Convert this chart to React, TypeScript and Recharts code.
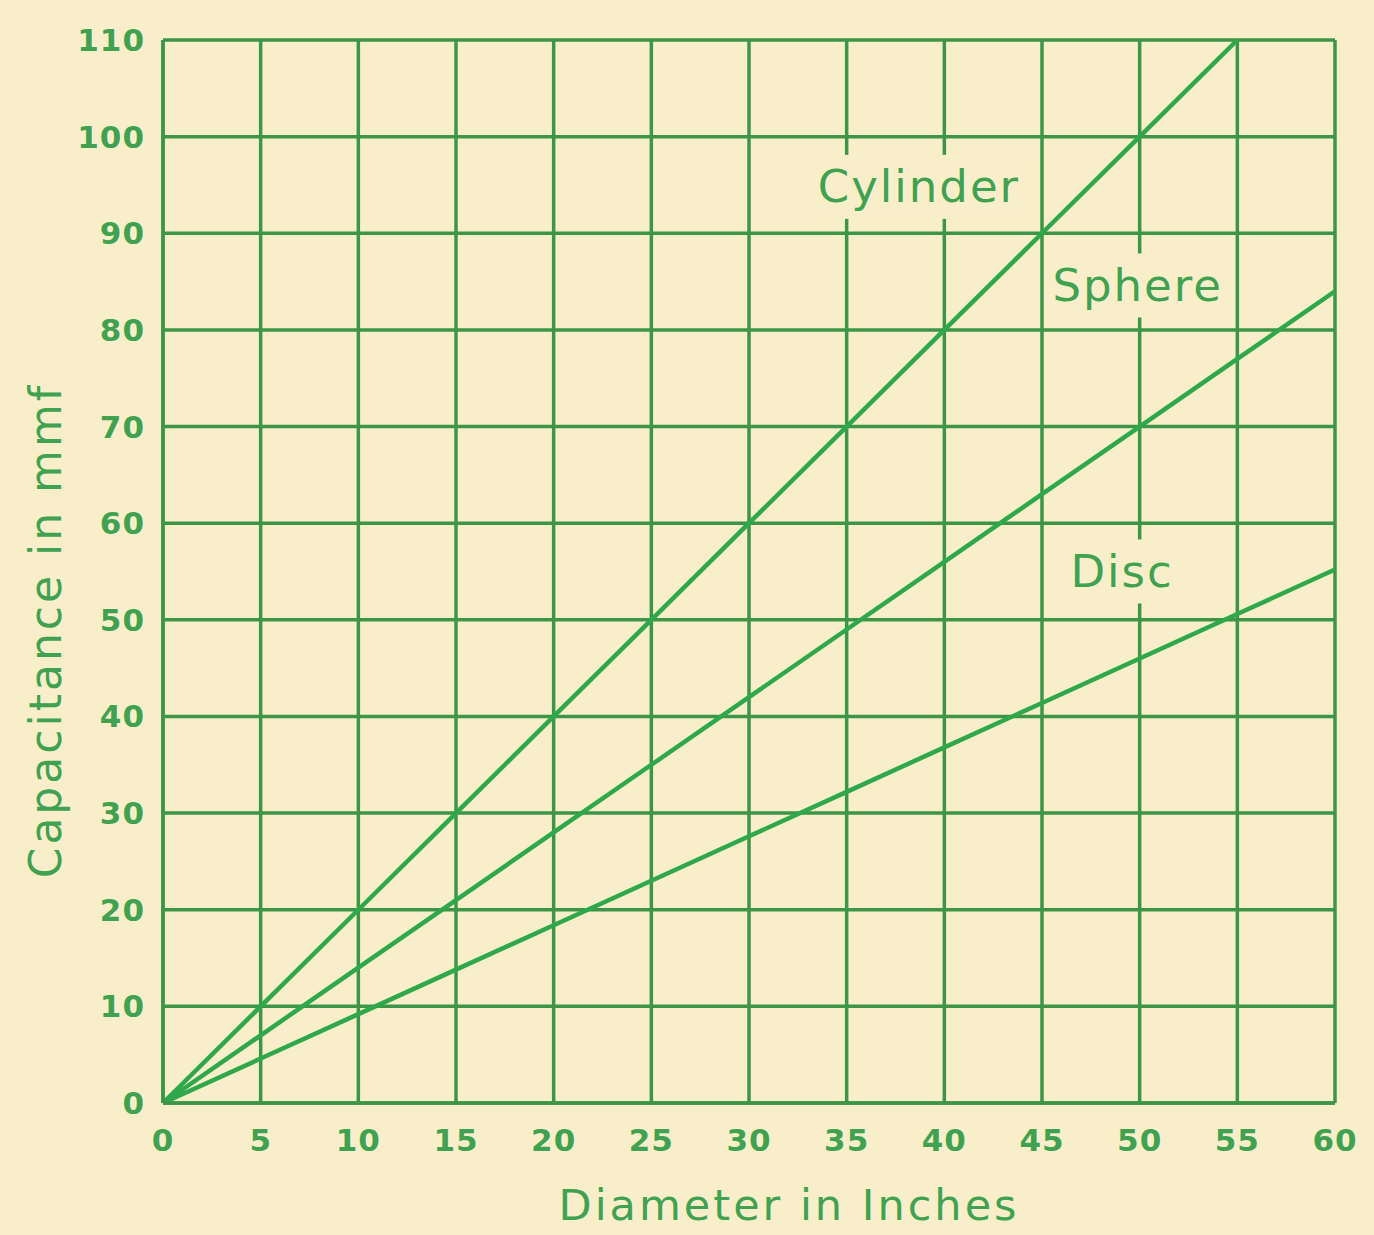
import React from "react";
import {
  LineChart,
  Line,
  XAxis,
  YAxis,
  CartesianGrid,
  ReferenceDot,
} from "recharts";

const BG = "#f8efca";
const GRID = "#3d9647";
const LINE = "#2ea84a";
const TEXT = "#40a250";
const FONT = "'DejaVu Sans', sans-serif";

// diameter in inches
const diameters = [0, 5, 10, 15, 20, 25, 30, 35, 40, 45, 50, 55, 60];
// capacitance in mmf
const cylinder = [0, 10, 20, 30, 40, 50, 60, 70, 80, 90, 100, 110, null];
const sphere = [0, 7, 14, 21, 28, 35, 42, 49, 56, 63, 70, 77, 84];
const disc = [0, 4.6, 9.2, 13.8, 18.4, 23, 27.6, 32.2, 36.8, 41.4, 46, 50.6, 55.2];

const xTicks = [0, 5, 10, 15, 20, 25, 30, 35, 40, 45, 50, 55, 60];
const yTicks = [0, 10, 20, 30, 40, 50, 60, 70, 80, 90, 100, 110];

const labels = [
  { name: "Cylinder", x: 38.7, y: 94.8, w: 230 },
  { name: "Sphere", x: 49.9, y: 84.6, w: 185 },
  { name: "Disc", x: 49.1, y: 55.0, w: 125 },
];

const rows = diameters.map((d, i) => ({
  d,
  cylinder: cylinder[i],
  sphere: sphere[i],
  disc: disc[i],
}));

const TICK = { fill: TEXT, fontSize: 31, fontWeight: "bold", fontFamily: FONT, letterSpacing: 1 };

function tagShape(text: string, w: number) {
  return (p: any) => (
    <g>
      <rect x={p.cx - w / 2} y={p.cy - 32} width={w} height={64} fill={BG} />
      <text
        x={p.cx}
        y={p.cy}
        textAnchor="middle"
        dominantBaseline="central"
        fill={TEXT}
        fontSize={45}
        fontFamily={FONT}
        letterSpacing={2}
      >
        {text}
      </text>
    </g>
  );
}

function xTitle({ viewBox }: any) {
  return (
    <text
      x={viewBox.x + viewBox.width / 2 + 40}
      y={1220}
      textAnchor="middle"
      fill={TEXT}
      fontSize={43}
      fontFamily={FONT}
      letterSpacing={3}
    >
      Diameter in Inches
    </text>
  );
}

function yTitle({ viewBox }: any) {
  const x = 45;
  const y = viewBox.y + viewBox.height / 2 + 59;
  return (
    <text
      x={x}
      y={y}
      transform={`rotate(-90, ${x}, ${y})`}
      textAnchor="middle"
      dominantBaseline="central"
      fill={TEXT}
      fontSize={44}
      fontFamily={FONT}
      letterSpacing={3}
    >
      Capacitance in mmf
    </text>
  );
}

export default function App() {
  return (
    <div
      style={{
        position: "absolute",
        left: 0,
        top: 0,
        width: 1374,
        height: 1235,
        background: BG,
        fontFamily: FONT,
      }}
    >
      <LineChart
        width={1374}
        height={1235}
        data={rows}
        margin={{ top: 40, right: 39, left: 0, bottom: 0 }}
      >
        <CartesianGrid stroke={GRID} strokeWidth={3.5} />
        <XAxis
          dataKey="d"
          type="number"
          domain={[0, 60]}
          ticks={xTicks}
          interval={0}
          height={132}
          tick={{ ...TICK, dy: 18 }}
          tickLine={false}
          axisLine={{ stroke: GRID, strokeWidth: 3.5 }}
          label={{ content: xTitle }}
        />
        <YAxis
          type="number"
          domain={[0, 110]}
          ticks={yTicks}
          interval={0}
          width={163}
          tick={{ ...TICK, dx: -10 }}
          tickLine={false}
          axisLine={{ stroke: GRID, strokeWidth: 3.5 }}
          label={{ content: yTitle }}
        />
        <Line dataKey="cylinder" stroke={LINE} strokeWidth={4.5} dot={false} isAnimationActive={false} />
        <Line dataKey="sphere" stroke={LINE} strokeWidth={4.5} dot={false} isAnimationActive={false} />
        <Line dataKey="disc" stroke={LINE} strokeWidth={4.5} dot={false} isAnimationActive={false} />
        {labels.map((l) => (
          <ReferenceDot key={l.name} x={l.x} y={l.y} r={0} shape={tagShape(l.name, l.w)} />
        ))}
      </LineChart>
    </div>
  );
}
